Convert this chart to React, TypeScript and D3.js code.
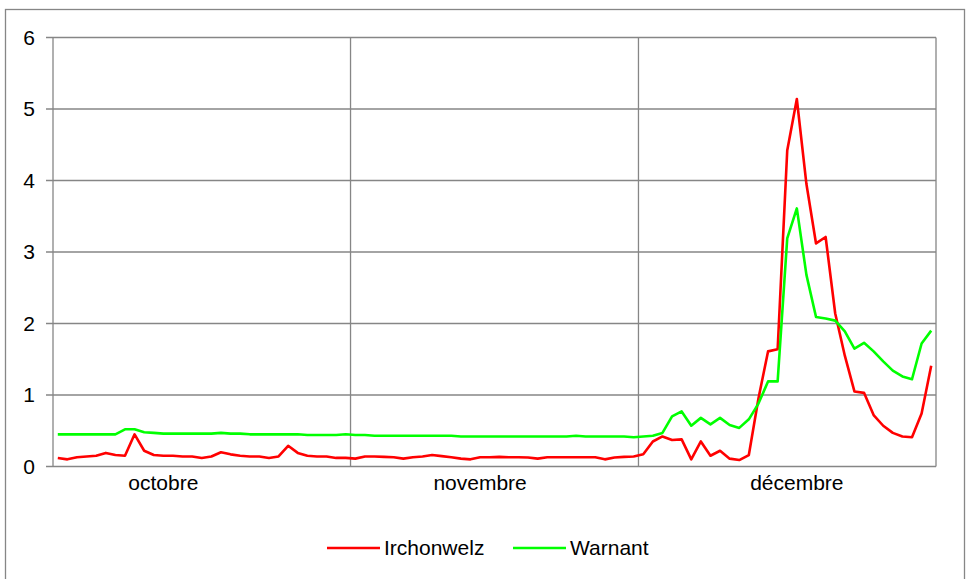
import React, { useEffect, useRef } from 'react';
import * as d3 from 'd3';

// daily values, 1 Oct -> 31 Dec
const months = ['octobre', 'novembre', 'décembre'];
const monthDays = [31, 30, 31];
// day index (0-based) at which each month label sits
const monthLabelAt = [11, 44, 77];
const yTicks = [0, 1, 2, 3, 4, 5, 6];

const irchonwelz = [
  // octobre
  0.12, 0.10, 0.13, 0.14, 0.15, 0.19, 0.16, 0.15, 0.45, 0.22, 0.16, 0.15, 0.15, 0.14, 0.14, 0.12,
  0.14, 0.20, 0.17, 0.15, 0.14, 0.14, 0.12, 0.14, 0.29, 0.19, 0.15, 0.14, 0.14, 0.12, 0.12,
  // novembre
  0.11, 0.14, 0.14, 0.135, 0.13, 0.11, 0.13, 0.14, 0.16, 0.145, 0.13, 0.11, 0.10, 0.13, 0.13,
  0.135, 0.13, 0.13, 0.125, 0.11, 0.13, 0.13, 0.13, 0.13, 0.13, 0.13, 0.10, 0.125, 0.135, 0.14,
  // décembre
  0.17, 0.35, 0.42, 0.37, 0.38, 0.10, 0.35, 0.15, 0.22, 0.11, 0.09, 0.16, 0.95, 1.61, 1.64, 4.42,
  5.14, 3.95, 3.12, 3.21, 2.14, 1.55, 1.05, 1.03, 0.72, 0.57, 0.47, 0.42, 0.41, 0.74, 1.41,
];

const warnant = [
  // octobre
  0.45, 0.45, 0.45, 0.45, 0.45, 0.45, 0.45, 0.52, 0.52, 0.48, 0.47, 0.46, 0.46, 0.46, 0.46, 0.46,
  0.46, 0.47, 0.46, 0.46, 0.45, 0.45, 0.45, 0.45, 0.45, 0.45, 0.44, 0.44, 0.44, 0.44, 0.45,
  // novembre
  0.44, 0.44, 0.43, 0.43, 0.43, 0.43, 0.43, 0.43, 0.43, 0.43, 0.43, 0.42, 0.42, 0.42, 0.42,
  0.42, 0.42, 0.42, 0.42, 0.42, 0.42, 0.42, 0.42, 0.43, 0.42, 0.42, 0.42, 0.42, 0.42, 0.41,
  // décembre
  0.42, 0.43, 0.47, 0.70, 0.77, 0.57, 0.68, 0.59, 0.68, 0.58, 0.54, 0.66, 0.88, 1.19, 1.19, 3.19,
  3.61, 2.68, 2.09, 2.07, 2.04, 1.89, 1.65, 1.73, 1.61, 1.47, 1.34, 1.26, 1.22, 1.72, 1.90,
];

const seriesNames = ['Irchonwelz', 'Warnant'];
const seriesColors = ['#ff0000', '#00ff00'];

const App = () => {
  const ref = useRef<HTMLDivElement>(null);

  useEffect(() => {
    d3.select(ref.current).selectAll('*').remove();

    const width = 968;
    const height = 579;
    const left = 53;
    const right = 936;
    const top = 37.5;
    const bottom = 466.5;
    const font = "'Liberation Sans', Arial, sans-serif";
    const gridColor = '#868686';

    const nDays = d3.sum(monthDays);

    const svg = d3
      .select(ref.current)
      .append('svg')
      .attr('width', width)
      .attr('height', height)
      .style('position', 'absolute')
      .style('left', 0)
      .style('top', 0)
      .style('font-family', font);

    svg.append('rect').attr('width', width).attr('height', height).attr('fill', '#fff');

    // outer chart border
    svg
      .append('rect')
      .attr('x', 5.5)
      .attr('y', 9.5)
      .attr('width', 959)
      .attr('height', 600)
      .attr('fill', 'none')
      .attr('stroke', gridColor)
      .attr('stroke-width', 1.3);

    const x = d3.scaleLinear().domain([0, nDays]).range([left, right]);
    const y = d3.scaleLinear().domain([0, 6]).range([bottom, top]);

    // horizontal gridlines + y ticks
    svg
      .append('g')
      .selectAll('line')
      .data(yTicks)
      .join('line')
      .attr('x1', left - 7)
      .attr('x2', right)
      .attr('y1', (d) => y(d))
      .attr('y2', (d) => y(d))
      .attr('stroke', gridColor)
      .attr('stroke-width', 1.3);

    svg
      .append('g')
      .selectAll('text')
      .data(yTicks)
      .join('text')
      .attr('x', 35)
      .attr('y', (d) => y(d))
      .attr('dy', '0.35em')
      .attr('text-anchor', 'end')
      .attr('font-size', 21)
      .attr('fill', '#000')
      .text((d) => d);

    // month boundaries
    const bounds = d3.cumsum(monthDays);
    svg
      .append('g')
      .selectAll('line')
      .data([0, ...bounds])
      .join('line')
      .attr('x1', (d) => x(d))
      .attr('x2', (d) => x(d))
      .attr('y1', top)
      .attr('y2', bottom)
      .attr('stroke', gridColor)
      .attr('stroke-width', 1.3);

    svg
      .append('g')
      .selectAll('text')
      .data(months)
      .join('text')
      .attr('x', (d, i) => x(monthLabelAt[i] + 0.5))
      .attr('y', 490)
      .attr('text-anchor', 'middle')
      .attr('font-size', 21)
      .attr('fill', '#000')
      .text((d) => d);

    // lines
    const line = d3
      .line<number>()
      .x((d, i) => x(i + 0.5))
      .y((d) => y(d));

    [irchonwelz, warnant].forEach((values, k) => {
      svg
        .append('path')
        .datum(values)
        .attr('d', line)
        .attr('fill', 'none')
        .attr('stroke', seriesColors[k])
        .attr('stroke-width', 2.6)
        .attr('stroke-linejoin', 'round');
    });

    // legend
    const legendX = [327, 513];
    const legendY = 548;
    const legend = svg
      .append('g')
      .selectAll('g')
      .data(seriesNames)
      .join('g')
      .attr('transform', (d, i) => `translate(${legendX[i]}, ${legendY})`);

    legend
      .append('line')
      .attr('x1', 0)
      .attr('x2', 53)
      .attr('stroke', (d, i) => seriesColors[i])
      .attr('stroke-width', 2.6);

    legend
      .append('text')
      .attr('x', 57)
      .attr('dy', '0.35em')
      .attr('font-size', 21)
      .attr('fill', '#000')
      .text((d) => d);
  }, []);

  return <div ref={ref} />;
};

export default App;
